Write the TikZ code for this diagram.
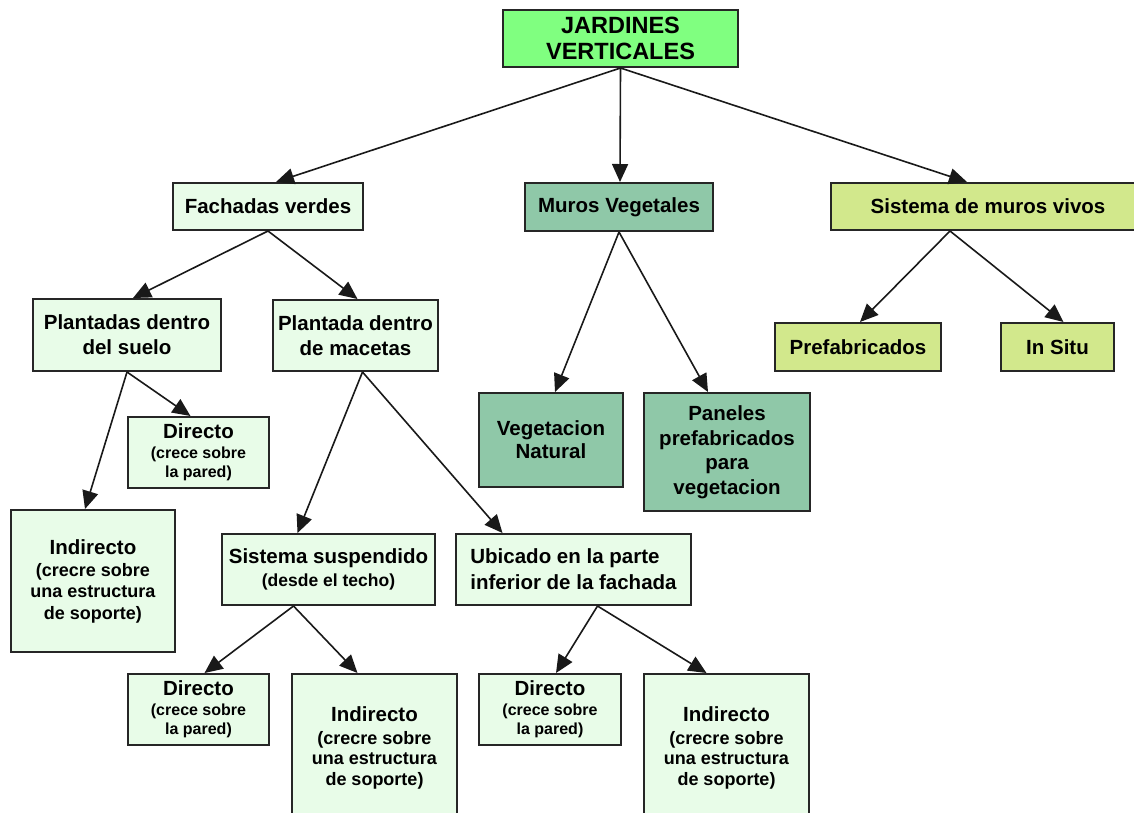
\documentclass[tikz,border=0pt]{standalone}
\usepackage{fontspec}
\setmainfont{Liberation Sans}
\usetikzlibrary{arrows.meta}
\definecolor{topgreen}{RGB}{128,255,128}
\definecolor{lightg}{RGB}{232,252,232}
\definecolor{murosc}{RGB}{143,200,168}
\definecolor{yellowc}{RGB}{210,232,140}
\newcommand{\subA}{\fontsize{16}{18}\selectfont}
\newcommand{\subB}{\fontsize{18}{20}\selectfont}
\tikzset{
  box/.style={draw=black!85, line width=2pt, inner sep=0pt, align=center,
    font=\bfseries\fontsize{20.5}{20}\selectfont, text=black},
  lg/.style={box, fill=lightg},
  mg/.style={box, fill=murosc},
  yg/.style={box, fill=yellowc},
  arr/.style={-{Triangle[length=18pt,width=16pt]}, line width=1.6pt, black!90},
}
\begin{document}
\begin{tikzpicture}[x=1pt,y=-1pt]
\clip (0,0) rectangle (1134,812);
\fill[white] (0,0) rectangle (1134,812);
% nodes
\node[box, fill=topgreen, minimum width=235, minimum height=57,
  font=\bfseries\fontsize{23.5}{26}\selectfont] (top) at (620.5,38.5) {JARDINES\\VERTICALES};
\node[lg, minimum width=190, minimum height=47] (fach) at (268,206.5) {Fachadas verdes};
\node[mg, minimum width=188, minimum height=48] (muros) at (619,207) {Muros Vegetales};
\node[yg, minimum width=314, minimum height=47] (sis) at (988,206.5) {Sistema de muros vivos};
\node[yg, minimum width=166, minimum height=48] (pref) at (858,347) {Prefabricados};
\node[yg, minimum width=113, minimum height=48] (insitu) at (1057.5,347) {In Situ};
\node[lg, minimum width=188, minimum height=72] (plantS) at (127,335) {Plantadas dentro\\[5pt]del suelo};
\node[lg, minimum width=165, minimum height=71] (plantM) at (355.5,335.5) {Plantada dentro\\[5pt]de macetas};
\node[lg, minimum width=141, minimum height=71] (dirA) at (198.5,452.5) {Directo\\[0pt]{\subA (crece sobre}\\[-1pt]{\subA la pared)}};
\node[lg, minimum width=164, minimum height=142] (indA) at (93,581) {Indirecto\\[2pt]{\subB (crecre sobre}\\[1pt]{\subB una estructura}\\[2pt]{\subB de soporte)}};
\node[lg, minimum width=213, minimum height=71] (susp) at (328.5,569.5) {Sistema suspendido\\[3pt]{\fontsize{17.5}{19}\selectfont (desde el techo)}};
\node[lg, minimum width=235, minimum height=71, align=left] (ubic) at (573.5,569.5) {Ubicado en la parte\\[6pt]inferior de la fachada};
\node[mg, minimum width=144, minimum height=94] (veg) at (551,440) {Vegetacion\\[3pt]Natural};
\node[mg, minimum width=166, minimum height=118] (pan) at (727,452) {Paneles\\[4.5pt]prefabricados\\[4.5pt]para\\[4.5pt]vegetacion};
\node[lg, minimum width=141, minimum height=71] (dirB) at (198.5,709.5) {Directo\\[0pt]{\subA (crece sobre}\\[-1pt]{\subA la pared)}};
\node[lg, minimum width=165, minimum height=148] (indB) at (374.5,748) {Indirecto\\[3pt]{\subB (crecre sobre}\\[0pt]{\subB una estructura}\\[1pt]{\subB de soporte)}};
\node[lg, minimum width=142, minimum height=71] (dirC) at (550,709.5) {Directo\\[0pt]{\subA (crece sobre}\\[-1pt]{\subA la pared)}};
\node[lg, minimum width=165, minimum height=148] (indC) at (726.5,748) {Indirecto\\[3pt]{\subB (crecre sobre}\\[0pt]{\subB una estructura}\\[1pt]{\subB de soporte)}};
% connectors
\draw[arr] (top.south) -- ([xshift=8pt]fach.north);
\draw[arr] (top.south) -- ([xshift=1pt]muros.north);
\draw[arr] (top.south) -- ([xshift=-21pt]sis.north);
\draw[arr] (fach.south) -- ([xshift=6pt]plantS.north);
\draw[arr] (fach.south) -- ([xshift=2pt]plantM.north);
\draw[arr] (plantS.south) -- ([xshift=-8pt]dirA.north);
\draw[arr] (plantS.south) -- ([xshift=-8pt]indA.north);
\draw[arr] ([xshift=7pt]plantM.south) -- ([xshift=-31pt]susp.north);
\draw[arr] ([xshift=7pt]plantM.south) -- ([xshift=-71pt]ubic.north);
\draw[arr] ([xshift=-35pt]susp.south) -- ([xshift=6pt]dirB.north);
\draw[arr] ([xshift=-35pt]susp.south) -- ([xshift=-17pt]indB.north);
\draw[arr] ([xshift=24pt]ubic.south) -- ([xshift=6pt]dirC.north);
\draw[arr] ([xshift=24pt]ubic.south) -- ([xshift=-20pt]indC.north);
\draw[arr] (muros.south) -- ([xshift=4pt]veg.north);
\draw[arr] (muros.south) -- ([xshift=-19pt]pan.north);
\draw[arr] ([xshift=-38pt]sis.south) -- ([xshift=2pt]pref.north);
\draw[arr] ([xshift=-38pt]sis.south) -- ([xshift=6pt]insitu.north);
\end{tikzpicture}
\end{document}
